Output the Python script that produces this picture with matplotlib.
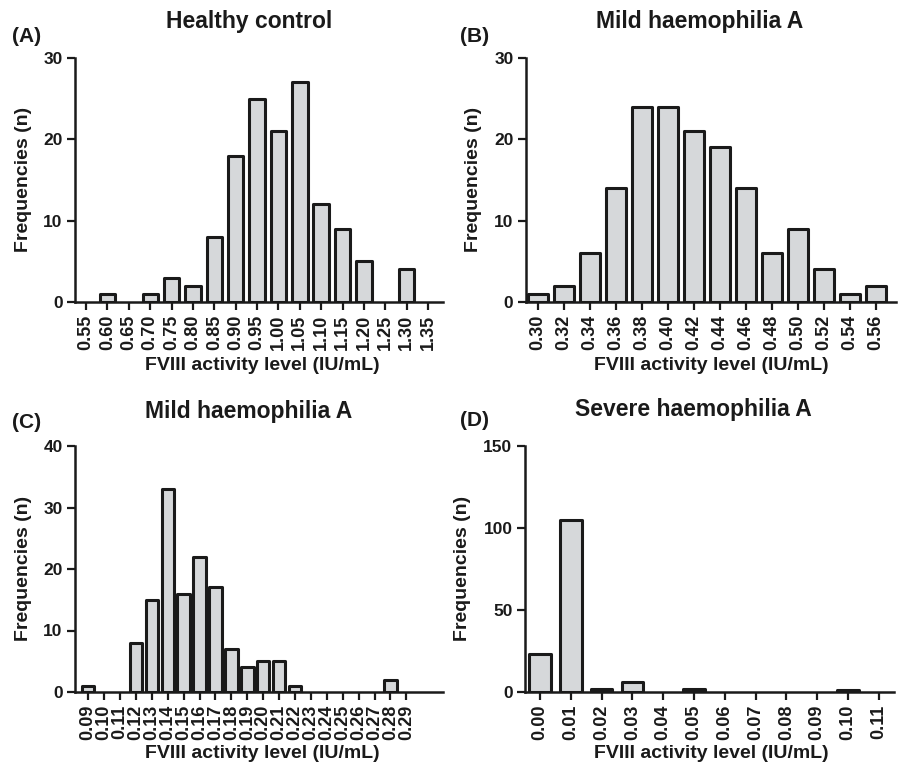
import matplotlib.pyplot as plt
import numpy as np

plt.rcParams['font.family'] = 'Liberation Sans'
plt.rcParams['font.weight'] = 'bold'
plt.rcParams['axes.labelweight'] = 'bold'

# panel A - healthy control
labels_a = ['0.55', '0.60', '0.65', '0.70', '0.75', '0.80', '0.85', '0.90', '0.95',
            '1.00', '1.05', '1.10', '1.15', '1.20', '1.25', '1.30', '1.35']
counts_a = [0, 1, 0, 1, 3, 2, 8, 18, 25, 21, 27, 12, 9, 5, 0, 4, 0]

# panel B - mild haemophilia A
labels_b = ['0.30', '0.32', '0.34', '0.36', '0.38', '0.40', '0.42', '0.44', '0.46',
            '0.48', '0.50', '0.52', '0.54', '0.56']
counts_b = [1, 2, 6, 14, 24, 24, 21, 19, 14, 6, 9, 4, 1, 2]

# panel C - mild haemophilia A
labels_c = ['0.09', '0.10', '0.11', '0.12', '0.13', '0.14', '0.15', '0.16', '0.17',
            '0.18', '0.19', '0.20', '0.21', '0.22', '0.23', '0.24', '0.25', '0.26',
            '0.27', '0.28', '0.29']
counts_c = [1, 0, 0, 8, 15, 33, 16, 22, 17, 7, 4, 5, 5, 1, 0, 0, 0, 0, 0, 2, 0]

# panel D - severe haemophilia A
labels_d = ['0.00', '0.01', '0.02', '0.03', '0.04', '0.05', '0.06', '0.07', '0.08',
            '0.09', '0.10', '0.11']
counts_d = [23, 105, 2, 6, 0, 2, 0, 0, 0, 0, 1, 0]

ink = '#1a1a1a'
fill = '#d6d8da'
W, H = 898, 767

fig = plt.figure(figsize=(W / 100, H / 100), dpi=100)


def px_axes(left, right, top, bottom):
    return fig.add_axes([left / W, 1 - bottom / H, (right - left) / W, (bottom - top) / H])


def hist_panel(ax, labels, counts, ymax, ystep, xlim, width):
    x = np.arange(len(labels))
    c = np.array(counts)
    keep = c > 0
    ax.bar(x[keep], c[keep], width=width, color=fill, edgecolor=ink,
           linewidth=2.2, zorder=3, joinstyle='round')
    ax.set_xticks(x)
    ax.set_xticklabels(labels, rotation=90, fontsize=13)
    ax.set_xlim(*xlim)
    ax.set_ylim(0, ymax)
    ax.set_yticks(np.arange(0, ymax + 1, ystep))
    ax.tick_params(axis='y', labelsize=12.5, width=1.6, length=6, color=ink, labelcolor=ink, pad=3)
    ax.tick_params(axis='x', width=1.6, length=6, color=ink, labelcolor=ink, pad=3)
    for s in ['top', 'right']:
        ax.spines[s].set_visible(False)
    for s in ['left', 'bottom']:
        ax.spines[s].set_linewidth(1.8)
        ax.spines[s].set_color(ink)
        ax.spines[s].set_zorder(4)


ax_a = px_axes(75, 443, 58, 302)
hist_panel(ax_a, labels_a, counts_a, 30, 10, (-0.52, 16.7), 0.72)
ax_b = px_axes(526, 896, 58, 302)
hist_panel(ax_b, labels_b, counts_b, 30, 10, (-0.46, 13.77), 0.74)
ax_c = px_axes(75, 443, 446, 692)
hist_panel(ax_c, labels_c, counts_c, 40, 10, (-0.83, 22.3), 0.78)
ax_d = px_axes(525, 894, 446, 692)
hist_panel(ax_d, labels_d, counts_d, 150, 50, (-0.49, 11.5), 0.7)

tkw = dict(fontsize=16.5, fontweight='bold', color=ink, ha='center')
fig.text(249 / W, 1 - 28 / H, 'Healthy control', va='baseline', **tkw)
fig.text(700 / W, 1 - 28 / H, 'Mild haemophilia A', va='baseline', **tkw)
fig.text(249 / W, 1 - 418 / H, 'Mild haemophilia A', va='baseline', **tkw)
fig.text(693 / W, 1 - 416 / H, 'Severe haemophilia A', va='baseline', **tkw)

pkw = dict(fontsize=15, fontweight='bold', color=ink, ha='left', va='baseline')
fig.text(12 / W, 1 - 42 / H, '(A)', **pkw)
fig.text(460 / W, 1 - 42 / H, '(B)', **pkw)
fig.text(12 / W, 1 - 428 / H, '(C)', **pkw)
fig.text(460 / W, 1 - 426 / H, '(D)', **pkw)

lkw = dict(fontsize=14, fontweight='bold', color=ink, ha='center', va='center')
xlab = 'FVIII activity level (IU/mL)'
fig.text(262 / W, 1 - 366 / H, xlab, **lkw)
fig.text(711 / W, 1 - 366 / H, xlab, **lkw)
fig.text(262 / W, 1 - 753 / H, xlab, **lkw)
fig.text(711 / W, 1 - 753 / H, xlab, **lkw)

ylab = 'Frequencies (n)'
fig.text(24 / W, 1 - 179 / H, ylab, rotation=90, **lkw)
fig.text(474 / W, 1 - 179 / H, ylab, rotation=90, **lkw)
fig.text(24 / W, 1 - 568 / H, ylab, rotation=90, **lkw)
fig.text(463 / W, 1 - 568 / H, ylab, rotation=90, **lkw)

fig.savefig('out.png', dpi=100)
